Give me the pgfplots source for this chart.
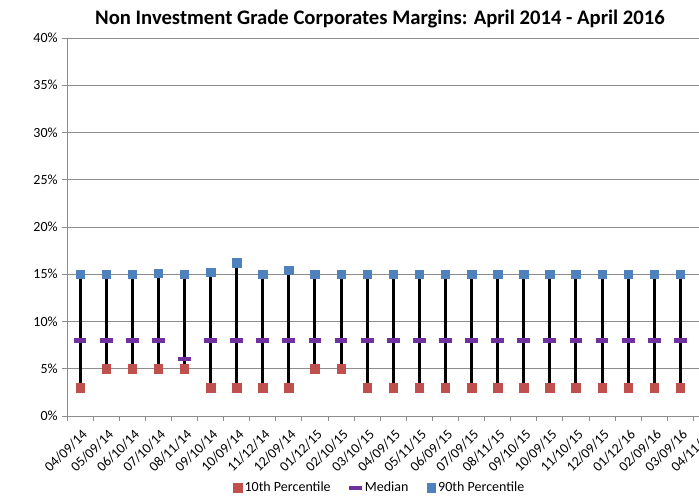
\documentclass[border=0pt]{standalone}
\usepackage{fontspec}
\setmainfont{Carlito}
\usepackage{pgfplots}
\usepackage{pgfplotstable}
\pgfplotsset{compat=1.18}
\definecolor{cred}{HTML}{C0504D}
\definecolor{cpurple}{HTML}{7030A0}
\definecolor{cblue}{HTML}{4F81BD}
\definecolor{cgrid}{HTML}{8C8C8C}
\pgfplotstableread{
x p10 med p90
0 3 8 15
1 5 8 15
2 5 8 15
3 5 8 15.1
4 5 6 15
5 3 8 15.2
6 3 8 16.2
7 3 8 15
8 3 8 15.4
9 5 8 15
10 5 8 15
11 3 8 15
12 3 8 15
13 3 8 15
14 3 8 15
15 3 8 15
16 3 8 15
17 3 8 15
18 3 8 15
19 3 8 15
20 3 8 15
21 3 8 15
22 3 8 15
23 3 8 15
}\data
\begin{document}
\begin{tikzpicture}
\begin{axis}[
  scale only axis,
  width=489.4pt, height=283.5pt,
  xmin=-0.5, xmax=24.5,
  ymin=0, ymax=40,
  axis lines=left,
  axis line style={-, draw=cgrid},
  ytick={0,5,...,40},
  yticklabels={0\%,5\%,10\%,15\%,20\%,25\%,30\%,35\%,40\%},
  ymajorgrids,
  grid style={cgrid, line width=0.6pt},
  xtick={-0.5,0.5,...,24.5},
  x tick label as interval,
  xticklabels={04/09/14,05/09/14,06/10/14,07/10/14,08/11/14,09/10/14,10/09/14,11/12/14,12/09/14,01/12/15,02/10/15,03/10/15,04/09/15,05/11/15,06/09/15,07/09/15,08/11/15,09/10/15,10/09/15,11/10/15,12/09/15,01/12/16,02/09/16,03/09/16,04/11/16},
  x tick label style={rotate=45, anchor=east, font=\fontsize{10.5}{12}\selectfont, xshift=0pt, yshift=-8.5pt},
  y tick label style={font=\fontsize{10.5}{12}\selectfont},
  tick align=outside,
  major tick length=3.5pt,
  tick style={cgrid, line width=0.6pt},
  legend columns=3,
  legend style={at={(0.48,-0.19)}, anchor=center, draw=none, fill=none,
    font=\fontsize{10.5}{12}\selectfont, /tikz/every even column/.append style={column sep=12pt}},
  legend cell align=left,
  clip=false,
]
\addplot[forget plot, draw=none, mark=none,
  error bars/.cd, y dir=plus, y explicit, error mark=none,
  error bar style={line width=2.2pt, black}]
  table[x=x, y=p10, y error expr=\thisrow{p90}-\thisrow{p10}] {\data};
\addplot[only marks, mark=square*, mark size=3.2pt, mark options={draw=cred, fill=cred}]
  table[x=x, y=p10] {\data};
\addlegendentry{10th Percentile}
\addplot[only marks, mark=-, mark size=4.8pt, mark options={draw=cpurple, line width=3.2pt}]
  table[x=x, y=med] {\data};
\addlegendentry{Median}
\addplot[only marks, mark=square*, mark size=3.2pt, mark options={draw=cblue, fill=cblue}]
  table[x=x, y=p90] {\data};
\addlegendentry{90th Percentile}
\end{axis}
\node[font=\bfseries\fontsize{15.5}{18}\selectfont] at ([xshift=234.75pt, yshift=14pt]current axis.north west) {Non Investment Grade Corporates Margins: April 2014 - April 2016};
\pgfresetboundingbox
\path[use as bounding box] ([xshift=-50.25pt, yshift=-63.75pt]current axis.south west) rectangle ([xshift=-15.375pt, yshift=28.5pt]current axis.north east);
\end{tikzpicture}
\end{document}
